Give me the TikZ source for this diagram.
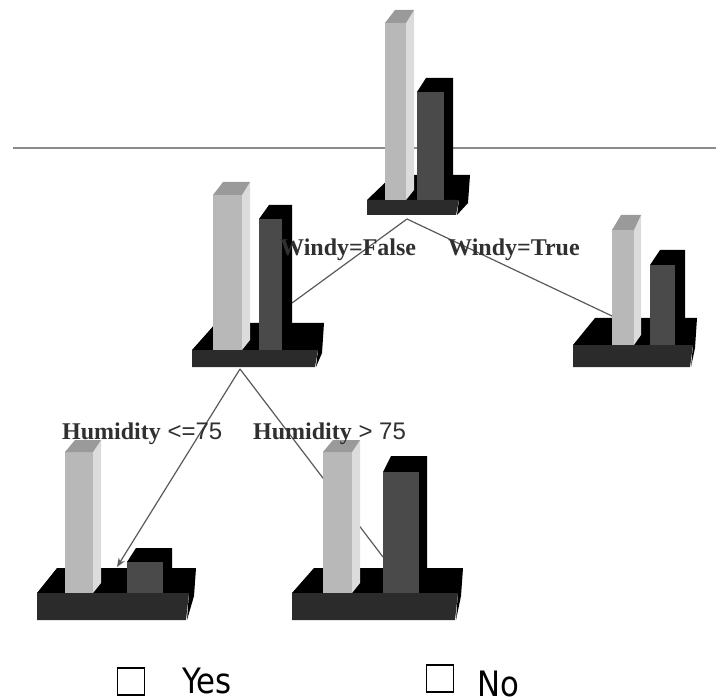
\documentclass[tikz,border=0pt]{standalone}
\usepackage{fontspec}
\setmainfont{Liberation Serif}
\newfontfamily\lblsans{Liberation Sans}
\newfontfamily\yesnofont[FakeStretch=0.88]{DejaVu Sans}
\usetikzlibrary{arrows.meta}
\definecolor{barlight}{HTML}{B8B8B8}
\definecolor{barside}{HTML}{DCDCDC}
\definecolor{bartop}{HTML}{9A9A9A}
\definecolor{bardark}{HTML}{4A4A4A}
\definecolor{basefront}{HTML}{2B2B2B}
\definecolor{connector}{HTML}{5A5A5A}
\definecolor{hline}{HTML}{8C8C8C}
\definecolor{labelgray}{HTML}{303030}
\newcommand\chartbase[7]{%
  \fill[black] (#1,#3) -- ({#1+#6},#5) -- ({#2+#7},#5) -- ({#2+#7-2},{#3+3}) -- ({#2-2},#4) -- (#2,#3) -- cycle;
  \fill[basefront] (#1,#3) -- (#2,#3) -- ({#2-3},#4) -- (#1,#4) -- cycle;
}
\newcommand\lightbar[6]{%
  \fill[barside] (#2,#4) -- (#3,#6) -- (#3,{#5-10}) -- (#2,#5) -- cycle;
  \fill[barlight] (#1,#4) rectangle (#2,#5);
  \fill[bartop] (#1,#4) -- ({#1+#3-#2+2},#6) -- (#3,#6) -- (#2,#4) -- cycle;
}
\newcommand\darkbar[6]{%
  \fill[black] (#1,#4) -- ({#1+#3-#2},#6) -- (#3,#6) -- (#3,{#5-10}) -- (#2,#5) -- (#2,#4) -- cycle;
  \fill[bardark] (#1,#4) rectangle (#2,#5);
}
\begin{document}
\begin{tikzpicture}[x=1pt,y=-1pt,
  conn/.style={draw=connector, line width=1.2pt},
  lbl/.style={inner sep=0pt, anchor=base west, text=labelgray, font=\fontsize{24}{28}\selectfont},
  yesno/.style={inner sep=0pt, anchor=base west, text depth=0pt, text=black, font=\yesnofont\fontsize{35}{40}\selectfont},
  chk/.style={draw=black, line width=1.3pt, minimum size=27pt, inner sep=0pt}]
\useasboundingbox (0,0) rectangle (716,698);
\fill[white] (0,0) rectangle (716,698);
% horizontal rule
\coordinate (hla) at (13,148);
\coordinate (hlb) at (716,148);
\draw[draw=hline, line width=2pt] (hla) -- (hlb);
% connector end points
\coordinate (root) at (407,219);
\coordinate (mlin) at (292,303);
\coordinate (rin) at (612,316);
\coordinate (mlout) at (240,369);
\coordinate (blin) at (117,567);
\coordinate (brin) at (383,557);
\draw[conn] (root) -- (mlin);
\draw[conn] (root) -- (rin);
\draw[conn, -{Stealth[length=9pt,width=7pt]}] (mlout) -- (blin);
\draw[conn] (mlout) -- (brin);
% top chart
\chartbase{367}{459}{200}{215}{175}{26}{11}
\lightbar{385}{406}{414}{23}{200}{10}
\darkbar{417}{444}{453}{92}{200}{78}
% middle-left chart
\chartbase{192}{318}{350}{367}{323}{24}{6}
\lightbar{213}{242}{250}{195}{350}{182}
\darkbar{259}{282}{292}{219}{350}{205}
% right chart
\chartbase{573}{693}{345}{367}{318}{22}{4}
\lightbar{612}{634}{641}{230}{345}{215}
\darkbar{650}{675}{685}{265}{345}{250}
% bottom-left chart
\chartbase{37}{189}{593}{620}{568}{20}{7}
\lightbar{65}{93}{101}{452}{593}{440}
\darkbar{127}{163}{172}{562}{593}{548}
% bottom-right chart
\chartbase{292}{458}{593}{620}{568}{22}{5}
\lightbar{323}{352}{360}{452}{593}{440}
\darkbar{383}{419}{427}{472}{593}{456}
% labels
\node[lbl] (wf) at (280,256) {\bfseries Windy=False};
\node[lbl] (wt) at (448,256) {\bfseries Windy=True};
\node[lbl] (hle) at (62,439) {\bfseries Humidity{\lblsans\mdseries\ <=75}};
\node[lbl] (hgt) at (253,439) {\bfseries Humidity{\lblsans\mdseries\ > 75}};
% legend
\node[chk] (boxyes) at (131,681.5) {};
\node[yesno] (yes) at (182,693) {Yes};
\node[chk] (boxno) at (440,678.5) {};
\node[yesno] (no) at (477,696) {No};
\end{tikzpicture}
\end{document}
